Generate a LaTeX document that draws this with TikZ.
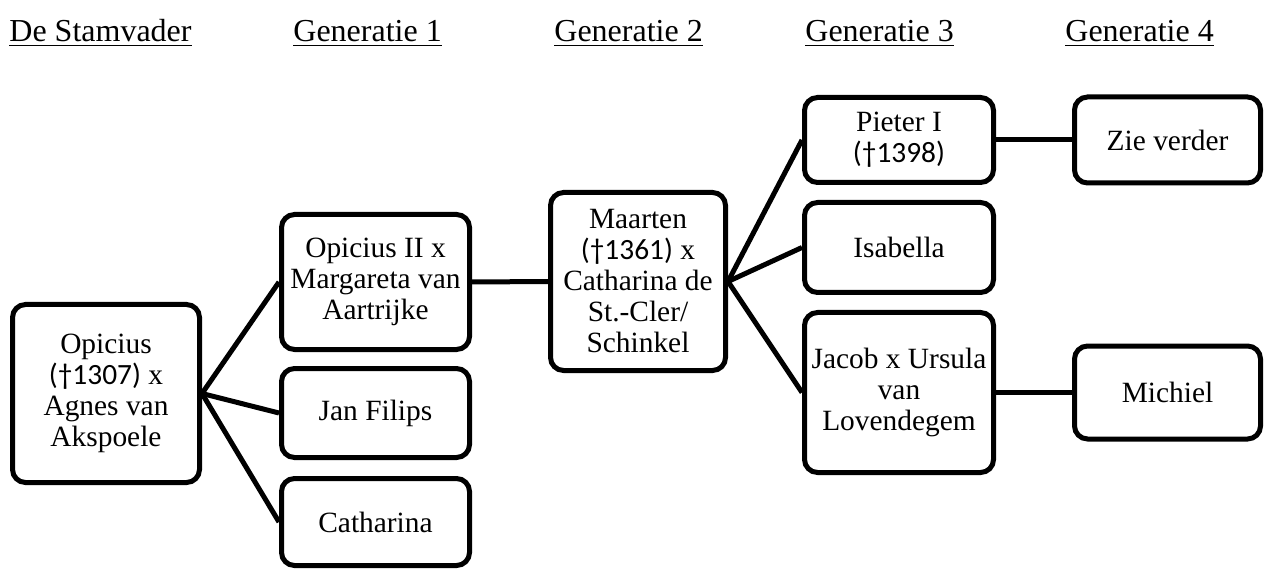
\documentclass[tikz,border=0pt]{standalone}
\usepackage{fontspec}
\setmainfont{Liberation Serif}
\newfontfamily\mycalibri{Carlito}
\usepackage{tikz}
\pgfkeys{tikz/mybox/.style={draw,line width=2.5pt,rounded corners=6.5pt,align=center,inner sep=2pt,font=\fontsize{14.7pt}{15.5pt}\selectfont}}
\pgfkeys{tikz/myline/.style={line width=2.5pt}}
\pgfkeys{tikz/myheader/.style={anchor=base west,inner sep=0pt,font=\fontsize{16pt}{18pt}\selectfont}}
\newcommand*\mydied[1]{{\mycalibri(†#1)}}

\begin{document}
\begin{tikzpicture}[x=0.5pt,y=-0.5pt]
    \useasboundingbox (0,0) rectangle (1267,571);
    \node[myheader] (h0) at (9,42) {\underline{De Stamvader}};
    \node[myheader] (h1) at (293,42) {\underline{Generatie 1}};
    \node[myheader] (h2) at (554,42) {\underline{Generatie 2}};
    \node[myheader] (h3) at (805,42) {\underline{Generatie 3}};
    \node[myheader] (h4) at (1065,42) {\underline{Generatie 4}};

    \node[mybox,minimum width=93.5pt,minimum height=89pt] (stam) at (106,393.5)
        {Opicius\\\mydied{1307} x\\Agnes van\\Akspoele};
    \node[mybox,minimum width=94pt,minimum height=67.5pt] (g1a) at (375.5,282)
        {Opicius II x\\Margareta van\\Aartrijke};
    \node[mybox,minimum width=94pt,minimum height=44.5pt] (g1b) at (375.5,413) {Jan Filips};
    \node[mybox,minimum width=94pt,minimum height=43.5pt] (g1c) at (375.5,522) {Catharina};
    \node[mybox,minimum width=87.5pt,minimum height=89pt] (g2) at (638,281.5)
        {Maarten\\\mydied{1361} x\\Catharina de\\St.-Cler/\\Schinkel};
    \node[mybox,minimum width=94.5pt,minimum height=42.5pt] (g3a) at (899,140)
        {Pieter I\\\mydied{1398}};
    \node[mybox,minimum width=94.5pt,minimum height=45pt] (g3b) at (899,247.5) {Isabella};
    \node[mybox,minimum width=94.5pt,minimum height=80pt] (g3c) at (899,392.5)
        {Jacob x Ursula\\van\\Lovendegem};
    \node[mybox,minimum width=93pt,minimum height=43pt] (g4a) at (1167.5,140) {Zie verder};
    \node[mybox,minimum width=93pt,minimum height=46.5pt] (g4b) at (1167.5,392.5) {Michiel};

    \draw[myline] (stam.east) -- (g1a.west);
    \draw[myline] (stam.east) -- (g1b.west);
    \draw[myline] (stam.east) -- (g1c.west);
    \draw[myline] (g1a.east) -- (g2.west);
    \draw[myline] (g2.east) -- (g3a.west);
    \draw[myline] (g2.east) -- (g3b.west);
    \draw[myline] (g2.east) -- (g3c.west);
    \draw[myline] (g3a.east) -- (g4a.west);
    \draw[myline] (g3c.east) -- (g4b.west);
\end{tikzpicture}
\end{document}
